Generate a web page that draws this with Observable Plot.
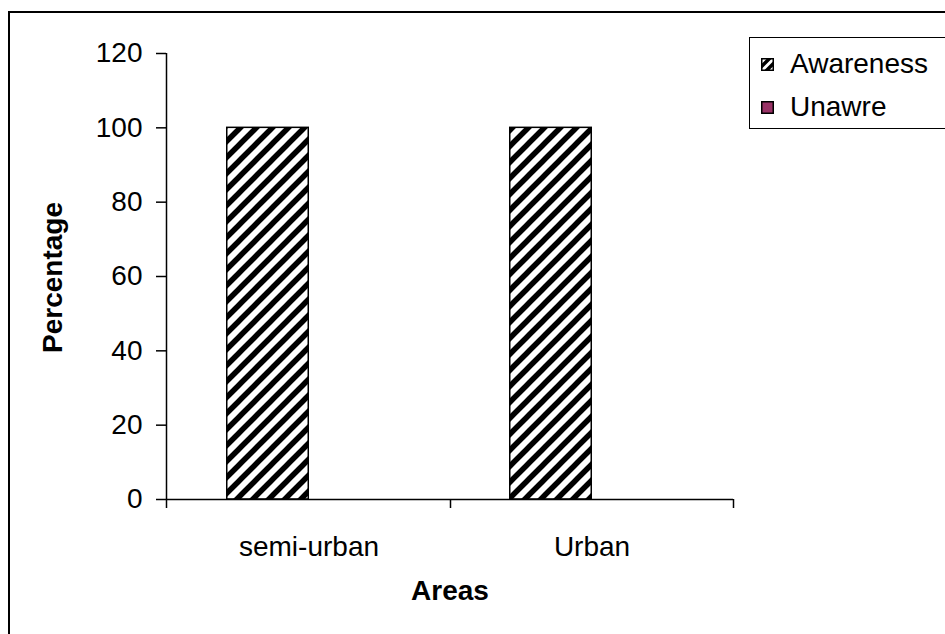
<!DOCTYPE html>
<html>
<head>
<meta charset="utf-8">
<script src="https://cdn.jsdelivr.net/npm/d3@7"></script>
<script src="https://cdn.jsdelivr.net/npm/@observablehq/plot@0.6"></script>
<style>
  html, body { margin: 0; padding: 0; background: #fff; overflow: hidden; }
  body { width: 945px; height: 634px; position: relative; font-family: "Liberation Sans", Arial, sans-serif; }
  #border { position: absolute; left: 8px; top: 11px; width: 1000px; height: 1000px; border: 2px solid #000; box-sizing: border-box; }
  #chart { position: absolute; left: 0; top: 0; }
  #legend { position: absolute; left: 749px; top: 37px; width: 300px; height: 92px; border: 1.5px solid #000; box-sizing: border-box; background: #fff; }
  .item { position: absolute; left: 11px; display: flex; align-items: center; font-size: 28px; color: #000; line-height: 1; }
  .item svg { margin-right: 16px; }
</style>
</head>
<body>
<div id="border"></div>
<div id="chart"></div>
<div id="legend"></div>
<script>
// Awareness of the two study areas, in percent
const areas = ["semi-urban", "Urban"];
const series = ["Awareness", "Unawre"];
const awareness = [100, 100];
const unaware = [0, 0];
const yTicks = [0, 20, 40, 60, 80, 100, 120];
const yLabel = "Percentage";
const xLabel = "Areas";

const paints = ["url(#stripes)", "#993366"];

const rows = areas.flatMap((area, i) => [
  {area, series: series[0], value: awareness[i]},
  {area, series: series[1], value: unaware[i]}
]);

const W = 945, H = 634;
const margin = {top: 53, right: 212, bottom: 135, left: 166};
const band = (W - margin.left - margin.right) / areas.length;
const barW = 82;
const gap = (band - 2 * barW) / 2;

// tick marks on the category axis sit at the band edges
function edgeTicks(index, scales, values, dims) {
  const g = d3.create("svg:g").attr("stroke", "#000").attr("stroke-width", 1.5);
  const y0 = dims.height - dims.marginBottom;
  const left = dims.marginLeft, right = dims.width - dims.marginRight;
  const step = (right - left) / areas.length;
  for (let k = 0; k <= areas.length; ++k) {
    const x = Math.round(left + k * step) + 0.5;
    g.append("line").attr("x1", x).attr("x2", x).attr("y1", y0).attr("y2", y0 + 9);
  }
  g.append("line").attr("x1", left + 0.5).attr("x2", left + 0.5).attr("y1", dims.marginTop).attr("y2", y0);
  return g.node();
}

const plot = Plot.plot({
  width: W,
  height: H,
  marginTop: margin.top,
  marginRight: margin.right,
  marginBottom: margin.bottom,
  marginLeft: margin.left,
  style: {fontFamily: "'Liberation Sans', Arial, sans-serif", fontSize: "28px", color: "#000", background: "transparent"},
  x: {domain: areas, padding: 0},
  y: {domain: [0, 120]},
  color: {domain: series, range: paints},
  marks: [
    Plot.barY(rows.filter(d => d.series === series[0]), {
      x: "area", y: "value", fill: "series",
      insetLeft: gap, insetRight: band - gap - barW,
      stroke: "#000", strokeWidth: 1.5
    }),
    Plot.barY(rows.filter(d => d.series === series[1] && d.value > 0), {
      x: "area", y: "value", fill: "series",
      insetLeft: gap + barW, insetRight: gap,
      stroke: "#000", strokeWidth: 1.5
    }),
    Plot.ruleY([0], {stroke: "#000", strokeWidth: 1.5}),
    edgeTicks,
    Plot.axisY({ticks: yTicks, tickSize: 10, tickPadding: 14, tickFormat: d => String(d), label: null, stroke: "#000", strokeWidth: 1.5}),
    Plot.axisX({tickSize: 0, tickPadding: 37, label: null}),
    Plot.text([yLabel], {frameAnchor: "left", textAnchor: "middle", dx: -113, dy: 1, rotate: -90, fontWeight: "bold", fontSize: 28}),
    Plot.text([xLabel], {frameAnchor: "bottom", dy: 100, fontWeight: "bold", fontSize: 28})
  ]
});

// diagonal hatch used by the Awareness bars
const defs = d3.select(plot).insert("defs", ":first-child");
function addStripes(id, size, width) {
  const p = defs.append("pattern").attr("id", id).attr("patternUnits", "userSpaceOnUse")
    .attr("width", size).attr("height", size);
  p.append("rect").attr("width", size).attr("height", size).attr("fill", "#fff");
  p.append("path")
    .attr("d", `M${-size / 4},${size / 4}L${size / 4},${-size / 4}M0,${size}L${size},0M${size * 3 / 4},${size * 5 / 4}L${size * 5 / 4},${size * 3 / 4}`)
    .attr("stroke", "#000").attr("stroke-width", width);
}
addStripes("stripes", 16, 5.5);
document.getElementById("chart").appendChild(plot);

// legend
const legend = d3.select("#legend");
series.forEach((s, i) => {
  const item = legend.append("div").attr("class", "item").style("top", `${12 + i * 43}px`);
  const sw = item.append("svg").attr("width", 13).attr("height", 13);
  if (i === 0) {
    const d = sw.append("defs").append("pattern").attr("id", "swatchStripes").attr("patternUnits", "userSpaceOnUse")
      .attr("width", 9).attr("height", 9);
    d.append("rect").attr("width", 9).attr("height", 9).attr("fill", "#fff");
    d.append("path").attr("d", "M0,9L9,0M-2.25,2.25L2.25,-2.25M6.75,11.25L11.25,6.75").attr("stroke", "#000").attr("stroke-width", 3.5);
    sw.append("rect").attr("x", 0.75).attr("y", 0.75).attr("width", 11.5).attr("height", 11.5)
      .attr("fill", "url(#swatchStripes)").attr("stroke", "#000").attr("stroke-width", 1.5);
  } else {
    sw.append("rect").attr("x", 0.75).attr("y", 0.75).attr("width", 11.5).attr("height", 11.5)
      .attr("fill", paints[i]).attr("stroke", "#000").attr("stroke-width", 1.5);
  }
  item.append("span").text(s);
});
</script>
</body>
</html>
